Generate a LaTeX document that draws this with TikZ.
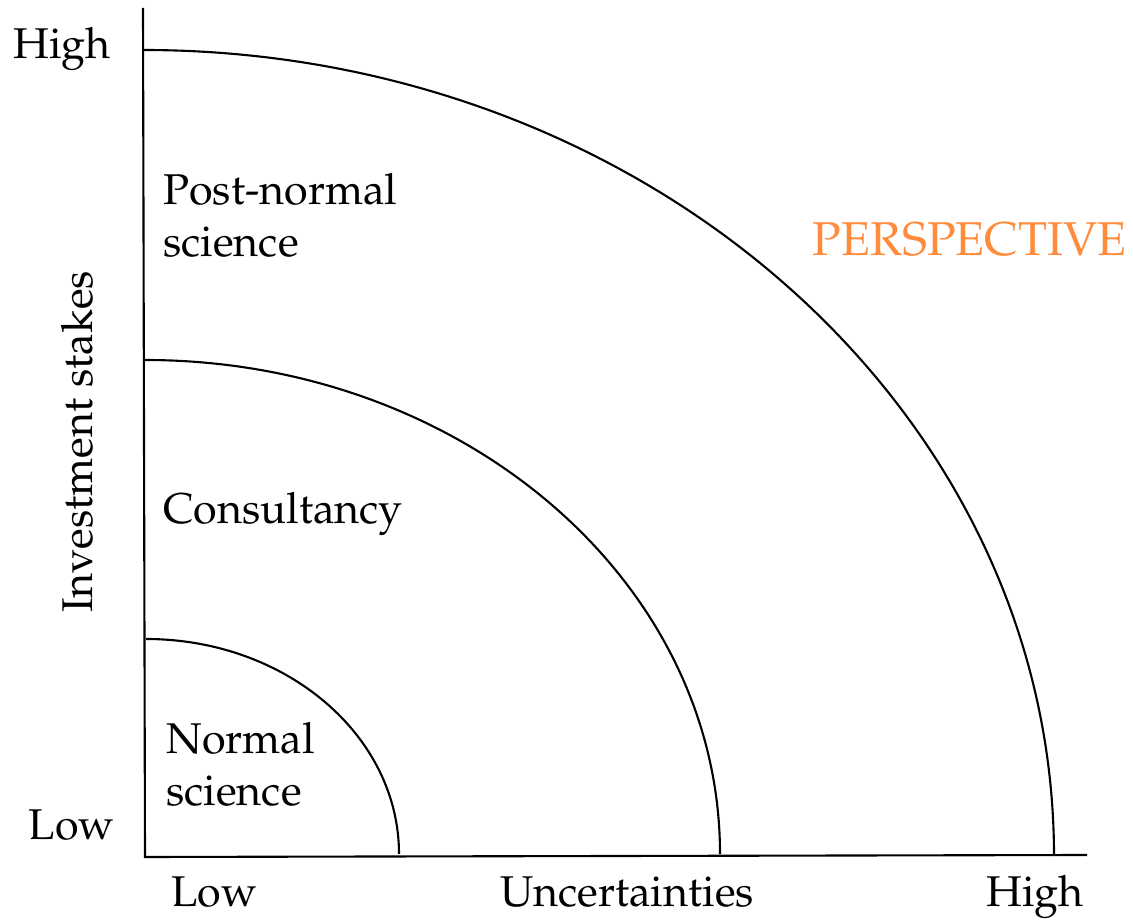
\documentclass[tikz,border=0pt]{standalone}
\usepackage[T1]{fontenc}
\usepackage{mathpazo}
\usepackage{tikz}
\usetikzlibrary{positioning}
\definecolor{naranja}{RGB}{255, 140, 60}
\tikzset{
    lbl/.style={font=\fontsize{24.5}{29.5}\selectfont, inner sep=0pt},
    zone/.style={lbl, align=left, anchor=west},
    ax/.style={-, black, line width=1.2pt},
    ring/.style={black, line width=1.2pt},
}
\begin{document}
\begin{tikzpicture}[x=0.02cm, y=0.02cm]
    \useasboundingbox (0,0) rectangle (1133,920);

    % axes
    \coordinate (top) at (143,912);
    \coordinate (o) at (145,63);
    \coordinate (right) at (1087,65);
    \draw[ax] (top) -- (o) -- (right);

    % zones
    \draw[ring] (146,281) arc[start angle=90, end angle=0, x radius=253, y radius=215];
    \draw[ring] (145,560) arc[start angle=90, end angle=0, x radius=575, y radius=494];
    \draw[ring] (143,870) arc[start angle=90, end angle=0, x radius=911, y radius=806];

    % labels
    \node[lbl, anchor=base east] (yhigh) at (111,861) {High};
    \node[lbl, anchor=base east] (ylow) at (115,80) {Low};
    \node[lbl, anchor=base west] (xlow) at (171,13) {Low};
    \node[lbl, anchor=base] (xlab) at (627,13) {Uncertainties};
    \node[lbl, anchor=base east] (xhigh) at (1084,13) {High};
    \node[lbl, anchor=base, rotate=90] (ylab) at (92,478) {Investment stakes};

    \node[zone] (pns) at (163,705) {Post-normal\\science};
    \node[zone] (cons) at (163,406) {Consultancy};
    \node[zone] (ns) at (166,156) {Normal\\science};

    \node[lbl, font=\fontsize{27}{32}\selectfont, text=naranja, anchor=base east] (persp) at (1127,664) {PERSPECTIVE};
\end{tikzpicture}
\end{document}
